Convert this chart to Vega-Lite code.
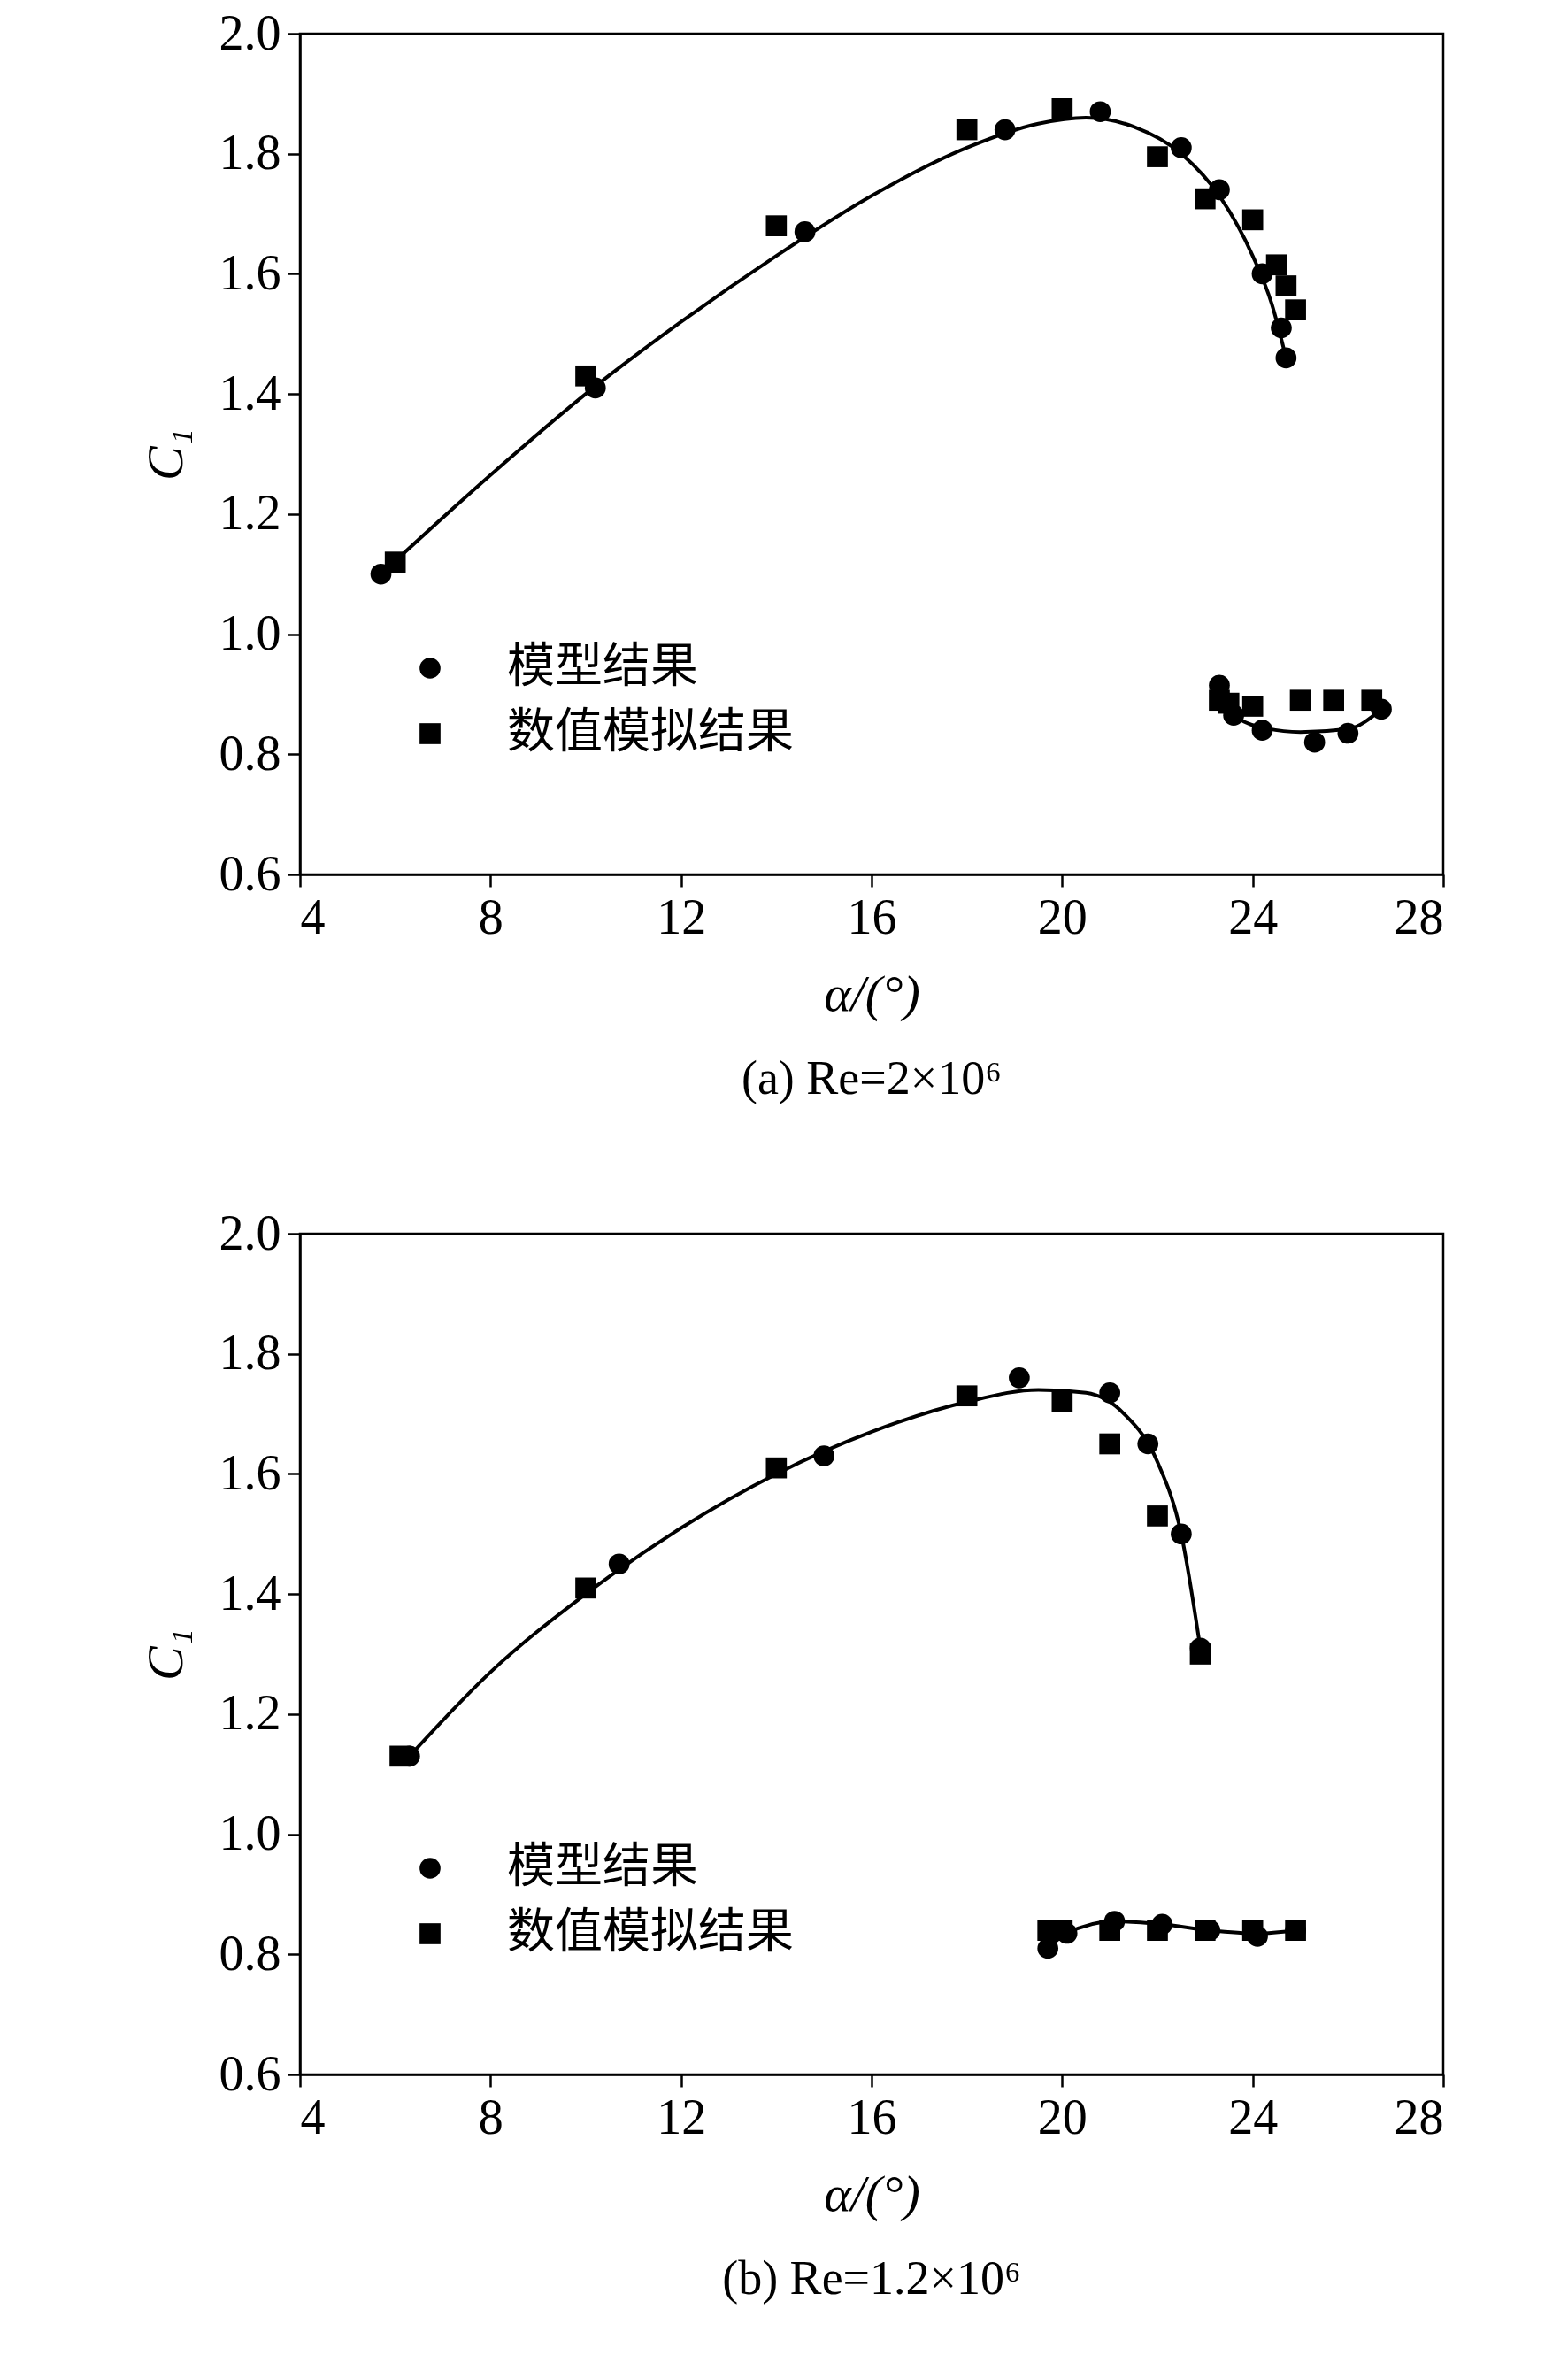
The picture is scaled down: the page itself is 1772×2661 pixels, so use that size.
{
"$schema":"https://vega.github.io/schema/vega-lite/v6.json",
"background":"white",
"padding":{"left":157,"top":8,"right":10,"bottom":10},
"config":{"font":"Liberation Serif","view":{"stroke":"black","strokeWidth":2.5},
"axis":{"domainColor":"black","domainWidth":2.5,"tickColor":"black","tickWidth":2.5,"tickSize":14,"labelFont":"Liberation Serif","labelFontSize":56,"labelColor":"black","titleFont":"Liberation Serif","titleFontSize":58,"titleFontWeight":"normal","titleColor":"black","grid":false,"labelPadding":8}},
"datasets":{
"pts":[
{"p":"a","s":"模型结果","x":5.7,"y":1.10},{"p":"a","s":"模型结果","x":10.2,"y":1.41},{"p":"a","s":"模型结果","x":14.6,"y":1.67},{"p":"a","s":"模型结果","x":18.8,"y":1.84},{"p":"a","s":"模型结果","x":20.8,"y":1.87},{"p":"a","s":"模型结果","x":22.5,"y":1.81},{"p":"a","s":"模型结果","x":23.3,"y":1.74},{"p":"a","s":"模型结果","x":24.2,"y":1.60},{"p":"a","s":"模型结果","x":24.6,"y":1.51},{"p":"a","s":"模型结果","x":24.7,"y":1.46},
{"p":"a","s":"模型结果","x":23.3,"y":0.915},{"p":"a","s":"模型结果","x":23.6,"y":0.865},{"p":"a","s":"模型结果","x":24.2,"y":0.84},{"p":"a","s":"模型结果","x":25.3,"y":0.82},{"p":"a","s":"模型结果","x":26.0,"y":0.835},{"p":"a","s":"模型结果","x":26.7,"y":0.875},
{"p":"a","s":"数值模拟结果","x":6.0,"y":1.12},{"p":"a","s":"数值模拟结果","x":10.0,"y":1.43},{"p":"a","s":"数值模拟结果","x":14.0,"y":1.68},{"p":"a","s":"数值模拟结果","x":18.0,"y":1.84},{"p":"a","s":"数值模拟结果","x":20.0,"y":1.875},{"p":"a","s":"数值模拟结果","x":22.0,"y":1.795},{"p":"a","s":"数值模拟结果","x":23.0,"y":1.725},{"p":"a","s":"数值模拟结果","x":24.0,"y":1.69},{"p":"a","s":"数值模拟结果","x":24.5,"y":1.615},{"p":"a","s":"数值模拟结果","x":24.7,"y":1.58},{"p":"a","s":"数值模拟结果","x":24.9,"y":1.54},
{"p":"a","s":"数值模拟结果","x":23.3,"y":0.89},{"p":"a","s":"数值模拟结果","x":23.5,"y":0.885},{"p":"a","s":"数值模拟结果","x":24.0,"y":0.88},{"p":"a","s":"数值模拟结果","x":25.0,"y":0.89},{"p":"a","s":"数值模拟结果","x":25.7,"y":0.89},{"p":"a","s":"数值模拟结果","x":26.5,"y":0.89},
{"p":"b","s":"模型结果","x":6.3,"y":1.13},{"p":"b","s":"模型结果","x":10.7,"y":1.45},{"p":"b","s":"模型结果","x":15.0,"y":1.63},{"p":"b","s":"模型结果","x":19.1,"y":1.76},{"p":"b","s":"模型结果","x":21.0,"y":1.735},{"p":"b","s":"模型结果","x":21.8,"y":1.65},{"p":"b","s":"模型结果","x":22.5,"y":1.50},{"p":"b","s":"模型结果","x":22.9,"y":1.31},
{"p":"b","s":"模型结果","x":19.7,"y":0.81},{"p":"b","s":"模型结果","x":20.1,"y":0.835},{"p":"b","s":"模型结果","x":21.1,"y":0.855},{"p":"b","s":"模型结果","x":22.1,"y":0.85},{"p":"b","s":"模型结果","x":23.1,"y":0.84},{"p":"b","s":"模型结果","x":24.1,"y":0.83},{"p":"b","s":"模型结果","x":24.9,"y":0.84},
{"p":"b","s":"数值模拟结果","x":6.1,"y":1.13},{"p":"b","s":"数值模拟结果","x":10.0,"y":1.41},{"p":"b","s":"数值模拟结果","x":14.0,"y":1.61},{"p":"b","s":"数值模拟结果","x":18.0,"y":1.73},{"p":"b","s":"数值模拟结果","x":20.0,"y":1.72},{"p":"b","s":"数值模拟结果","x":21.0,"y":1.65},{"p":"b","s":"数值模拟结果","x":22.0,"y":1.53},{"p":"b","s":"数值模拟结果","x":22.9,"y":1.30},
{"p":"b","s":"数值模拟结果","x":19.7,"y":0.84},{"p":"b","s":"数值模拟结果","x":20.0,"y":0.84},{"p":"b","s":"数值模拟结果","x":21.0,"y":0.84},{"p":"b","s":"数值模拟结果","x":22.0,"y":0.84},{"p":"b","s":"数值模拟结果","x":23.0,"y":0.84},{"p":"b","s":"数值模拟结果","x":24.0,"y":0.84},{"p":"b","s":"数值模拟结果","x":24.9,"y":0.84}
],
"curve":[
{"p":"a","g":1,"x":5.7,"y":1.10},{"p":"a","g":1,"x":8,"y":1.265},{"p":"a","g":1,"x":10,"y":1.40},{"p":"a","g":1,"x":12,"y":1.52},{"p":"a","g":1,"x":14,"y":1.63},{"p":"a","g":1,"x":16,"y":1.73},{"p":"a","g":1,"x":18,"y":1.81},{"p":"a","g":1,"x":19.5,"y":1.85},{"p":"a","g":1,"x":20.5,"y":1.86},{"p":"a","g":1,"x":21.5,"y":1.845},{"p":"a","g":1,"x":22.5,"y":1.80},{"p":"a","g":1,"x":23.3,"y":1.73},{"p":"a","g":1,"x":24,"y":1.63},{"p":"a","g":1,"x":24.4,"y":1.55},{"p":"a","g":1,"x":24.7,"y":1.46},
{"p":"a","g":2,"x":23.3,"y":0.91},{"p":"a","g":2,"x":23.7,"y":0.86},{"p":"a","g":2,"x":24.3,"y":0.843},{"p":"a","g":2,"x":25,"y":0.837},{"p":"a","g":2,"x":26,"y":0.842},{"p":"a","g":2,"x":26.7,"y":0.875},
{"p":"b","g":1,"x":6.3,"y":1.13},{"p":"b","g":1,"x":8,"y":1.27},{"p":"b","g":1,"x":10,"y":1.40},{"p":"b","g":1,"x":12,"y":1.51},{"p":"b","g":1,"x":14,"y":1.60},{"p":"b","g":1,"x":16,"y":1.67},{"p":"b","g":1,"x":18,"y":1.72},{"p":"b","g":1,"x":19.5,"y":1.74},{"p":"b","g":1,"x":20.5,"y":1.735},{"p":"b","g":1,"x":21.3,"y":1.70},{"p":"b","g":1,"x":22,"y":1.62},{"p":"b","g":1,"x":22.5,"y":1.50},{"p":"b","g":1,"x":22.9,"y":1.31},
{"p":"b","g":2,"x":19.7,"y":0.81},{"p":"b","g":2,"x":20.1,"y":0.835},{"p":"b","g":2,"x":21.1,"y":0.855},{"p":"b","g":2,"x":22.1,"y":0.85},{"p":"b","g":2,"x":23.1,"y":0.84},{"p":"b","g":2,"x":24.1,"y":0.835},{"p":"b","g":2,"x":24.9,"y":0.84}
]},
"spacing":115,
"vconcat":[
{"width":1292,"height":950,
"title":{"text":"(a) Re=2×10⁶","orient":"bottom","fontSize":54,"fontWeight":"normal","font":"Liberation Serif","offset":40,"color":"black"},
"layer":[
{"data":{"name":"curve"},"transform":[{"filter":"datum.p=='a'"}],"mark":{"type":"line","color":"black","strokeWidth":4,"interpolate":"monotone"},
"encoding":{"x":{"field":"x","type":"quantitative","scale":{"domain":[4,28]},"axis":{"values":[4,8,12,16,20,24,28],"title":"α/(°)","titleFontStyle":"italic","titlePadding":30}},"y":{"field":"y","type":"quantitative","scale":{"domain":[0.6,2.0]},"axis":{"values":[0.6,0.8,1.0,1.2,1.4,1.6,1.8,2.0],"format":".1f","title":"C₁","titleFontStyle":"italic","titlePadding":30}},"detail":{"field":"g"}}},
{"data":{"name":"pts"},"transform":[{"filter":"datum.p=='a'"}],"mark":{"type":"point","filled":true,"opacity":1,"color":"black","size":560},
"encoding":{"x":{"field":"x","type":"quantitative"},"y":{"field":"y","type":"quantitative"},
"shape":{"field":"s","type":"nominal","scale":{"domain":["模型结果","数值模拟结果"],"range":["circle","square"]},"legend":{"title":null,"orient":"none","legendX":120,"legendY":690,"labelFont":"Noto Sans CJK SC","labelFontSize":54,"labelLimit":600,"labelColor":"black","symbolSize":560,"symbolFillColor":"black","symbolStrokeColor":"black","rowPadding":20,"labelOffset":60}}}}
]},
{"width":1292,"height":950,
"title":{"text":"(b) Re=1.2×10⁶","orient":"bottom","fontSize":54,"fontWeight":"normal","font":"Liberation Serif","offset":40,"color":"black"},
"layer":[
{"data":{"name":"curve"},"transform":[{"filter":"datum.p=='b'"}],"mark":{"type":"line","color":"black","strokeWidth":4,"interpolate":"monotone"},
"encoding":{"x":{"field":"x","type":"quantitative","scale":{"domain":[4,28]},"axis":{"values":[4,8,12,16,20,24,28],"title":"α/(°)","titleFontStyle":"italic","titlePadding":30}},"y":{"field":"y","type":"quantitative","scale":{"domain":[0.6,2.0]},"axis":{"values":[0.6,0.8,1.0,1.2,1.4,1.6,1.8,2.0],"format":".1f","title":"C₁","titleFontStyle":"italic","titlePadding":30}},"detail":{"field":"g"}}},
{"data":{"name":"pts"},"transform":[{"filter":"datum.p=='b'"}],"mark":{"type":"point","filled":true,"opacity":1,"color":"black","size":560},
"encoding":{"x":{"field":"x","type":"quantitative"},"y":{"field":"y","type":"quantitative"},
"shape":{"field":"s","type":"nominal","scale":{"domain":["模型结果","数值模拟结果"],"range":["circle","square"]},"legend":{"title":null,"orient":"none","legendX":120,"legendY":690,"labelFont":"Noto Sans CJK SC","labelFontSize":54,"labelLimit":600,"labelColor":"black","symbolSize":560,"symbolFillColor":"black","symbolStrokeColor":"black","rowPadding":20,"labelOffset":60}}}}
]}
],
"resolve":{"scale":{"shape":"independent"},"legend":{"shape":"independent"}}
}
